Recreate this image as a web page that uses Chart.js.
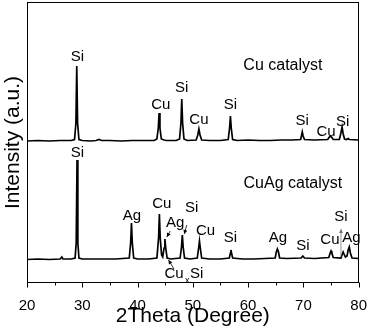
<!DOCTYPE html>
<html>
<head>
<meta charset="UTF-8">
<title>XRD patterns</title>
<script src="https://cdn.jsdelivr.net/npm/chart.js@4.4.1/dist/chart.umd.min.js"></script>
<style>
    html, body { margin: 0; padding: 0; background: #fff; }
    #wrap { width: 373px; height: 329px; }
</style>
</head>
<body>
<div id="wrap"><canvas id="xrdChart" width="373" height="329"></canvas></div>

<script>
    // XRD traces: [2theta, intensity (a.u., offset stacked)]
    const cuCatalyst = [
        [20, 142], [22, 142.5], [24, 142], [26, 142.5], [28, 142.5],
        [28.6, 143.5], [28.85, 160], [29.0, 217], [29.15, 160], [29.4, 143.5],
        [30, 142.5], [31.5, 142], [32.5, 142.5], [33, 143.5], [33.5, 142.5],
        [35, 142.5], [37, 142], [39, 142.5], [41, 142.5], [43, 142.5],
        [43.5, 144], [43.75, 155], [43.9, 170], [44.05, 155], [44.3, 144],
        [44.8, 143], [45.2, 142.5], [47, 142.5],
        [47.6, 144], [47.85, 160], [48.0, 184], [48.15, 160], [48.4, 144],
        [49, 142.5], [50.6, 143], [50.9, 148], [51.1, 154], [51.3, 148], [51.6, 143],
        [53, 142.5], [55, 142.5],
        [56.4, 143.5], [56.65, 155], [56.8, 167], [56.95, 155], [57.2, 143.5],
        [58, 142.5], [60, 143], [62, 142.5], [64, 142.5], [66, 143], [68, 143],
        [69.5, 143.5], [69.65, 147], [69.8, 151], [69.95, 147], [70.2, 143.5],
        [72, 143], [74.4, 143.5], [74.7, 146], [74.9, 147], [75.1, 146], [75.4, 143.5],
        [76.5, 143.5], [76.75, 149], [77.0, 156], [77.2, 149], [77.45, 144],
        [77.8, 143.5], [78.1, 144.5], [78.3, 143.5], [80, 143]
    ];

    const cuagCatalyst = [
        [20, 23.5], [22, 24], [24, 23.5], [26, 24], [26.3, 26], [26.5, 24], [28, 24],
        [28.7, 25], [28.9, 40], [29.05, 123], [29.2, 40], [29.4, 25],
        [30, 24], [32, 24], [34, 24], [36, 24],
        [38.5, 25], [38.75, 40], [38.9, 60], [39.05, 40], [39.3, 25],
        [40, 24], [42, 24],
        [43.5, 25], [43.8, 45], [43.95, 69], [44.1, 45], [44.35, 28],
        [44.55, 26], [44.8, 35], [44.95, 44], [45.1, 35], [45.35, 25],
        [46, 24], [47.7, 25], [47.95, 36], [48.1, 48], [48.25, 36], [48.5, 25],
        [49.5, 24], [50.8, 25], [51.05, 35], [51.2, 42], [51.35, 35], [51.6, 25],
        [53, 24], [55, 24],
        [56.6, 25], [56.8, 30], [56.9, 33], [57.0, 30], [57.2, 25],
        [59, 24], [61, 24], [63, 24.5],
        [64.9, 25], [65.1, 31], [65.3, 34], [65.5, 31], [65.7, 25],
        [67, 24.5], [69.6, 25], [69.9, 27], [70.2, 25], [72, 24.5],
        [74.6, 25.5], [74.85, 30], [75.0, 32], [75.15, 30], [75.4, 25.5],
        [76.8, 25], [77.05, 29], [77.2, 31], [77.35, 29], [77.6, 26],
        [77.9, 27], [78.1, 33], [78.3, 36], [78.5, 30], [78.8, 25], [80, 24.5]
    ];

    const xTickLabels = [20, 30, 40, 50, 60, 70, 80];

    // peak labels: [text, 2theta, intensity]
    const cuLabels = [
        ['Si', 29.1, 226], ['Cu', 44.2, 178], ['Si', 48.0, 195.5], ['Cu', 51.1, 163],
        ['Si', 56.8, 178], ['Si', 69.8, 162], ['Cu', 74.1, 151], ['Si', 77.1, 161]
    ];
    const cuagLabels = [
        ['Si', 29.1, 130], ['Ag', 39.0, 67], ['Cu', 44.4, 79], ['Ag', 46.8, 60],
        ['Si', 49.8, 75], ['Cu', 52.3, 52], ['Si', 56.8, 45], ['Ag', 65.4, 45],
        ['Si', 69.9, 37], ['Cu', 74.8, 43], ['Si', 76.8, 66], ['Ag', 78.7, 45],
        ['Cu', 46.6, 9], ['Si', 50.7, 9]
    ];
    const subLabels = [['x', 49.0, 2]];
    const sampleNames = [['Cu catalyst', 66.3, 217], ['CuAg catalyst', 68.1, 99]];

    // arrows: [x0, y0, x1, y1] head at the second point
    const arrows = [
        [45.9, 52, 45.3, 46],
        [48.9, 58, 48.45, 49],
        [46.6, 14, 45.6, 23],
        [76.8, 26, 76.8, 54]
    ];

    const FONT = '"Liberation Sans", Arial, sans-serif';

    const toPoints = arr => arr.map(p => ({ x: p[0], y: p[1] }));

    const decorations = {
        id: 'decorations',
        afterDraw(chart) {
            const ctx = chart.ctx;
            const xs = chart.scales.x;
            const ys = chart.scales.y;
            const area = chart.chartArea;
            ctx.save();

            // frame
            ctx.strokeStyle = '#000';
            ctx.lineWidth = 1;
            const l = Math.round(area.left) + 0.5, r = Math.round(area.right) - 0.5;
            const t = Math.round(area.top) + 0.5, b = Math.round(area.bottom) - 0.5;
            ctx.strokeRect(l, t, r - l, b - t);

            // outward ticks on the bottom axis
            ctx.beginPath();
            xs.ticks.forEach(tk => {
                const px = Math.round(xs.getPixelForValue(tk.value)) + 0.5;
                const len = xTickLabels.includes(tk.value) ? 5 : 3;
                ctx.moveTo(px, b);
                ctx.lineTo(px, b + len);
            });
            ctx.stroke();

            // labels
            ctx.fillStyle = '#000';
            ctx.textAlign = 'center';
            ctx.textBaseline = 'middle';
            ctx.font = '15px ' + FONT;
            cuLabels.concat(cuagLabels).forEach(lb => {
                ctx.fillText(lb[0], xs.getPixelForValue(lb[1]), ys.getPixelForValue(lb[2]));
            });
            ctx.font = '9px ' + FONT;
            subLabels.forEach(lb => {
                ctx.fillText(lb[0], xs.getPixelForValue(lb[1]), ys.getPixelForValue(lb[2]));
            });
            ctx.font = '16px ' + FONT;
            sampleNames.forEach(lb => {
                ctx.fillText(lb[0], xs.getPixelForValue(lb[1]), ys.getPixelForValue(lb[2]));
            });

            // arrows
            arrows.forEach((a, i) => {
                const x0 = xs.getPixelForValue(a[0]), y0 = ys.getPixelForValue(a[1]);
                const x1 = xs.getPixelForValue(a[2]), y1 = ys.getPixelForValue(a[3]);
                const col = i === 3 ? '#777' : '#000';
                ctx.strokeStyle = col;
                ctx.fillStyle = col;
                ctx.lineWidth = 0.8;
                ctx.beginPath();
                ctx.moveTo(x0, y0);
                ctx.lineTo(x1, y1);
                ctx.stroke();
                const ang = Math.atan2(y1 - y0, x1 - x0);
                const hl = 4, hw = 2;
                ctx.beginPath();
                ctx.moveTo(x1, y1);
                ctx.lineTo(x1 - hl * Math.cos(ang) + hw * Math.sin(ang), y1 - hl * Math.sin(ang) - hw * Math.cos(ang));
                ctx.lineTo(x1 - hl * Math.cos(ang) - hw * Math.sin(ang), y1 - hl * Math.sin(ang) + hw * Math.cos(ang));
                ctx.closePath();
                ctx.fill();
            });

            ctx.restore();
        }
    };

    new Chart(document.getElementById('xrdChart'), {
        type: 'line',
        data: {
            datasets: [
                { label: 'Cu catalyst', data: toPoints(cuCatalyst) },
                { label: 'CuAg catalyst', data: toPoints(cuagCatalyst) }
            ]
        },
        options: {
            responsive: false,
            animation: false,
            devicePixelRatio: 1,
            layout: { padding: { top: 2, right: 11, left: 0, bottom: 0 } },
            elements: {
                line: { borderColor: '#000', borderWidth: 1.7, tension: 0 },
                point: { radius: 0 }
            },
            plugins: {
                legend: { display: false },
                tooltip: { enabled: false }
            },
            scales: {
                x: {
                    type: 'linear',
                    min: 20,
                    max: 80,
                    grid: { display: false },
                    border: { display: false },
                    ticks: {
                        stepSize: 5,
                        autoSkip: false,
                        maxRotation: 0,
                        padding: 6,
                        color: '#000',
                        font: { family: FONT, size: 15 },
                        callback: v => xTickLabels.includes(v) ? String(v) : ''
                    },
                    title: {
                        display: true,
                        text: '2Theta (Degree)',
                        color: '#000',
                        font: { family: FONT, size: 21 },
                        padding: { top: 0, bottom: 0 }
                    },
                    afterFit: s => { s.height = 46; }
                },
                y: {
                    min: 0,
                    max: 281,
                    grid: { display: false },
                    border: { display: false },
                    ticks: { display: false },
                    title: {
                        display: true,
                        text: 'Intensity (a.u.)',
                        color: '#000',
                        font: { family: FONT, size: 21 },
                        padding: { top: 1, bottom: 0 }
                    },
                    afterFit: s => { s.width = 27; }
                }
            }
        },
        plugins: [decorations]
    });
</script>
</body>
</html>
